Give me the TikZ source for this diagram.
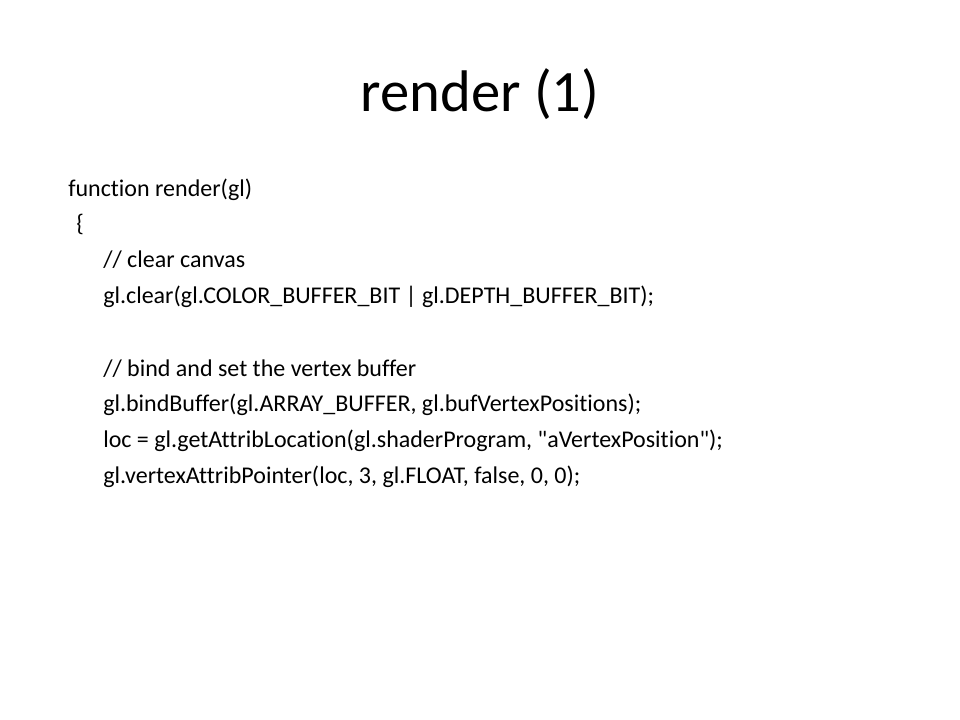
\documentclass[tikz,border=0pt]{standalone}
\usepackage{fontspec}
\newfontfamily\slidefont{Carlito}[Ligatures=NoCommon]

\begin{document}
\begin{tikzpicture}[x=0.75pt,y=-0.75pt,
    title/.style={anchor=base,inner sep=0pt,font=\slidefont\fontsize{44}{52}\selectfont},
    codeline/.style={anchor=base west,inner sep=0pt,font=\slidefont\fontsize{18}{22}\selectfont}]
    \useasboundingbox (0,0) rectangle (960,720);

    \node[title] (title) at (480,112) {render (1)};

    \node[codeline] (fun) at (68,197) {function render(gl)};
    \node[codeline] (open) at (76,232) {\{};
    \node[codeline] (clearcomment) at (103,268) {// clear canvas};
    \node[codeline] (clear) at (103,304) {gl.clear(gl.COLOR\_BUFFER\_BIT | gl.DEPTH\_BUFFER\_BIT);};

    \node[codeline] (bindcomment) at (103,376) {// bind and set the vertex buffer};
    \node[codeline] (bind) at (103,411) {gl.bindBuffer(gl.ARRAY\_BUFFER, gl.bufVertexPositions);};
    \node[codeline] (loc) at (103,447) {loc = gl.getAttribLocation(gl.shaderProgram, "aVertexPosition");};
    \node[codeline] (pointer) at (103,483) {gl.vertexAttribPointer(loc, 3, gl.FLOAT, false, 0, 0);};
\end{tikzpicture}
\end{document}
